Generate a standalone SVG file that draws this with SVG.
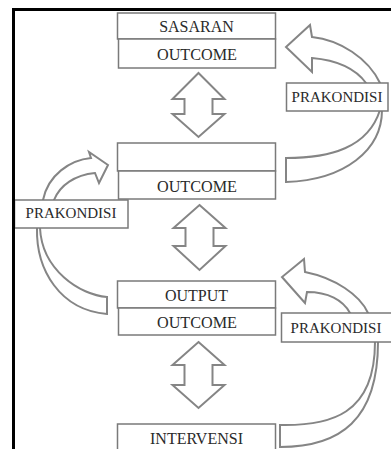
<svg xmlns="http://www.w3.org/2000/svg" width="391" height="449" viewBox="0 0 391 449">
<style>
.box{fill:#fff;stroke:#7a7a7a;stroke-width:1.5}
.arr{fill:#fff;stroke:#858585;stroke-width:2;stroke-linejoin:miter}
.t{font-family:"Liberation Serif","Times New Roman",serif;font-size:16px;fill:#2a2a2a;text-anchor:middle}
.p{font-family:"Liberation Serif","Times New Roman",serif;font-size:15px;fill:#2a2a2a;text-anchor:middle}
</style>
<rect x="0" y="0" width="391" height="449" fill="#fff"/>
<g id="connectors">
<path class="arr" d="M198.5,73 L224.5,99 L212.5,99 L212.5,114 L224.5,114 L198.5,137 L172.5,114 L184.5,114 L184.5,99 L172.5,99 Z"/>
<path class="arr" d="M199.5,205 L225.5,228 L213.5,228 L213.5,246 L225.5,246 L199.5,270 L173.5,246 L185.5,246 L185.5,228 L173.5,228 Z"/>
<path class="arr" d="M198.5,342 L224.5,365 L212.5,365 L212.5,385 L224.5,385 L198.5,408 L172.5,385 L184.5,385 L184.5,365 L172.5,365 Z"/>
<path class="arr" d="M286,158 C330,158 368,148 380,110 L366,83 C355,68 335,60 312,58 L312,72 L286,47 L310,25 L312,37 C340,40 368,58 380,83 L382,110 C382,150 345,180 286,182 Z"/>
<path class="arr" d="M107,297 C80,295 42,270 40,228 L54,200 C60,185 75,175 95,173 L99,183 L108,165 L89,152 L91,158 C70,160 48,175 43,200 L37,228 C36,270 60,310 107,314 Z"/>
<path class="arr" d="M280,425 C330,426 375,415 375,342 L350,313 C343,300 328,292 307,292 L305,303 L282,277 L304,259 L305,272 C335,278 360,295 368,313 L378,342 C378,420 340,447 280,447 Z"/>
</g>
<g id="sasaran"><rect class="box" x="117.5" y="13" width="158" height="26"/><text class="t" x="196.5" y="32">SASARAN</text></g>
<g id="outcome1"><rect class="box" x="118.5" y="39" width="157" height="29"/><text class="t" x="197" y="60" textLength="80" lengthAdjust="spacingAndGlyphs">OUTCOME</text></g>
<g id="blank2"><rect class="box" x="117.5" y="143" width="158" height="28"/></g>
<g id="outcome2"><rect class="box" x="118.5" y="171" width="157" height="28"/><text class="t" x="197" y="192" textLength="80" lengthAdjust="spacingAndGlyphs">OUTCOME</text></g>
<g id="output"><rect class="box" x="117.5" y="281" width="158" height="27"/><text class="t" x="196.5" y="301">OUTPUT</text></g>
<g id="outcome3"><rect class="box" x="118.5" y="308" width="157" height="27"/><text class="t" x="197" y="328" textLength="80" lengthAdjust="spacingAndGlyphs">OUTCOME</text></g>
<g id="intervensi"><rect class="box" x="117.5" y="424" width="158" height="30"/><text class="t" x="196.5" y="444">INTERVENSI</text></g>
<g id="prakondisi1"><rect class="box" x="286.5" y="83" width="101.5" height="28"/><text class="p" x="337" y="102">PRAKONDISI</text></g>
<g id="prakondisi2"><rect class="box" x="14.5" y="200" width="113.5" height="28"/><text class="p" x="71" y="218">PRAKONDISI</text></g>
<g id="prakondisi3"><rect class="box" x="281.5" y="313" width="111" height="29"/><text class="p" x="336" y="333">PRAKONDISI</text></g>
<path d="M13.5,460 L13.5,9.5 L400,9.5" fill="none" stroke="#000" stroke-width="3"/>
</svg>
